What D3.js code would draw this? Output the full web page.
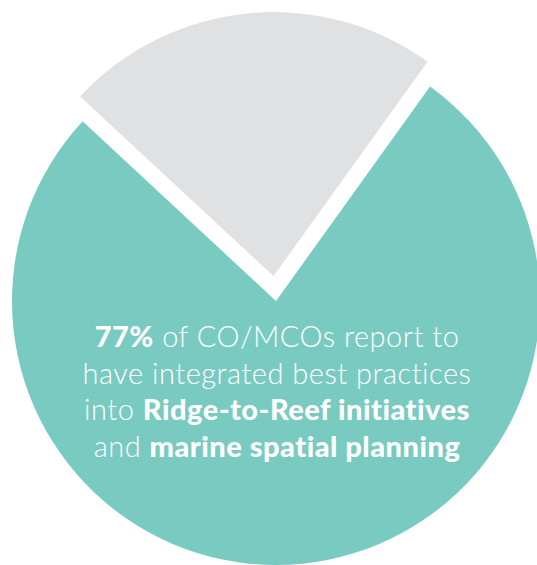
<!DOCTYPE html>
<html>
<head>
<meta charset="utf-8">
<script src="https://cdn.jsdelivr.net/npm/d3@7"></script>
<style>
  html, body { margin: 0; padding: 0; background: #ffffff; }
  svg { display: block; }
</style>
</head>
<body>
<svg id="chart" width="537" height="565"></svg>
<script>
// Share of CO/MCOs reporting integration of best practices
const categories = ["Integrated best practices", "Not integrated"];
const values = [77, 23];
const sliceColors = ["#79cbc2", "#e0e1e3"];
const sliceOffsets = [0, 25];   // how far each slice is pulled out from the centre

// Caption lines, each a list of runs (bold or light)
const captionLines = [
  [{ text: "77%", bold: true }, { text: " of CO/MCOs report to", bold: false }],
  [{ text: "have integrated best practices", bold: false }],
  [{ text: "into ", bold: false }, { text: "Ridge-to-Reef initiatives", bold: true }],
  [{ text: "and ", bold: false }, { text: "marine spatial planning", bold: true }]
];

const svg = d3.select("#chart");
const cx = 276, cy = 301, radius = 264;
const startAngle = 0.623;

const pie = d3.pie()
  .sort(null)
  .startAngle(startAngle)
  .endAngle(startAngle + 2 * Math.PI);

const arc = d3.arc().innerRadius(0).outerRadius(radius);

const g = svg.append("g").attr("transform", `translate(${cx},${cy})`);

g.selectAll("path.slice")
  .data(pie(values))
  .join("path")
  .attr("class", "slice")
  .attr("d", arc)
  .attr("fill", (d, i) => sliceColors[i])
  .attr("transform", (d, i) => {
    const mid = (d.startAngle + d.endAngle) / 2;
    const off = sliceOffsets[i];
    return `translate(${Math.sin(mid) * off},${-Math.cos(mid) * off})`;
  });

// Caption inside the large slice
const caption = svg.append("text")
  .attr("text-anchor", "middle")
  .attr("fill", "#ffffff")
  .style("font-family", "Lato, 'Open Sans', sans-serif")
  .style("font-size", "29px")
  .style("letter-spacing", "0.5px");

const lineGap = 36.5;
const firstBaseline = 347;
captionLines.forEach((runs, li) => {
  const line = caption.append("tspan")
    .attr("x", 277)
    .attr("y", firstBaseline + li * lineGap);
  runs.forEach(run => {
    line.append("tspan")
      .style("font-weight", run.bold ? 900 : 300)
      .text(run.text);
  });
});
</script>
</body>
</html>
